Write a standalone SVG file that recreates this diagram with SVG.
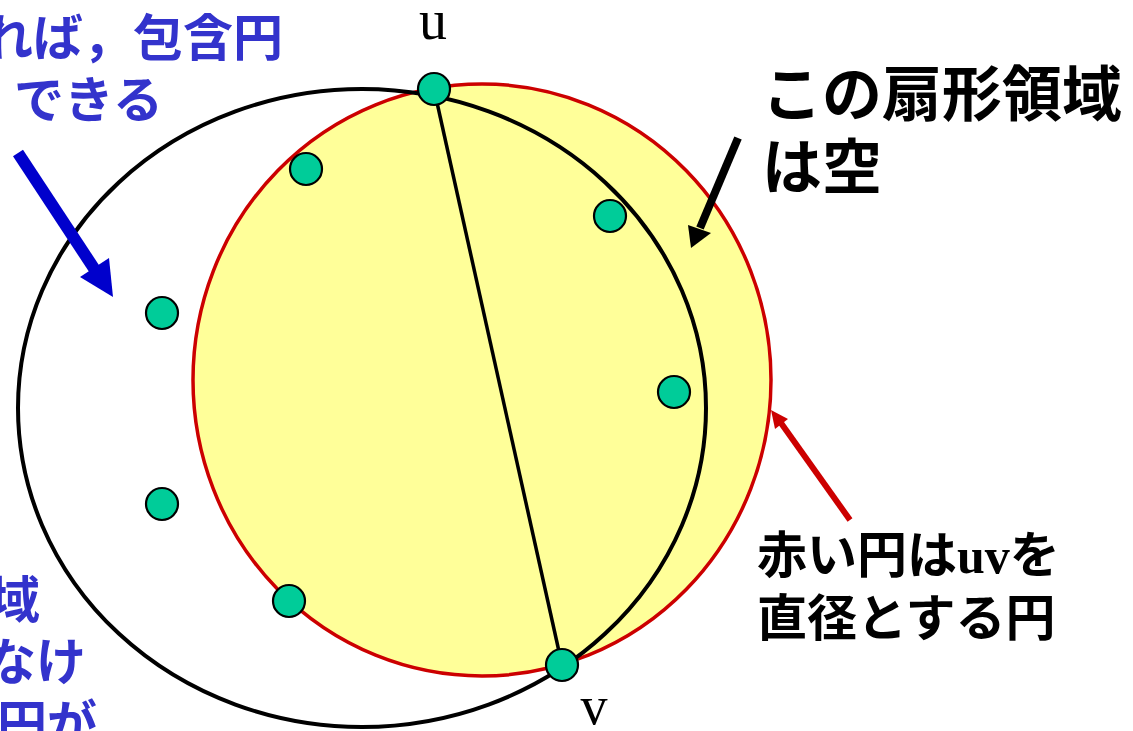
<svg xmlns="http://www.w3.org/2000/svg" width="1133" height="731" viewBox="0 0 1133 731">
<style>
.node{fill:#00CC99;stroke:#000;stroke-width:2.2}
.jp{font-family:"Noto Sans CJK JP","Noto Sans",sans-serif}
.blue{fill:#3333CC;font-size:50px;font-weight:bold}
.blk{fill:#000;font-weight:bold}
.lbl{font-family:"Liberation Serif",serif;fill:#000}
</style>
<rect width="1133" height="731" fill="#fff"/>
<g id="red-circle">
<ellipse cx="482" cy="380" rx="289" ry="296" fill="#FFFF99" stroke="#CC0000" stroke-width="3.5"/>
</g>
<g id="connectors">
<ellipse id="black-circle" cx="362" cy="408" rx="344" ry="319" fill="none" stroke="#000" stroke-width="4"/>
<line id="uv" x1="434" y1="89" x2="562" y2="665" stroke="#000" stroke-width="3.5"/>
<g id="blue-arrow">
<line x1="18" y1="153" x2="97" y2="273" stroke="#0000CC" stroke-width="12"/>
<polygon points="113,297 80,277 109,258" fill="#0000CC"/>
</g>
<g id="black-arrow">
<line x1="738" y1="138" x2="700" y2="228" stroke="#000" stroke-width="8"/>
<polygon points="691,248 688,225 711,233" fill="#000"/>
</g>
<g id="red-arrow">
<line x1="850" y1="520" x2="781" y2="423" stroke="#CC0000" stroke-width="6"/>
<polygon points="771,410 775,429 788,419" fill="#CC0000"/>
</g>
</g>
<g id="nodes">
<circle id="n-u" class="node" cx="434" cy="89" r="16"/>
<circle id="n2" class="node" cx="306" cy="169" r="16"/>
<circle id="n3" class="node" cx="610" cy="216" r="16"/>
<circle id="n4" class="node" cx="162" cy="313" r="16"/>
<circle id="n5" class="node" cx="674" cy="392" r="16"/>
<circle id="n6" class="node" cx="162" cy="504" r="16"/>
<circle id="n7" class="node" cx="289" cy="601" r="16"/>
<circle id="n-v" class="node" cx="562" cy="665" r="16"/>
</g>
<g id="labels">
<text class="lbl" x="433" y="39" font-size="56" text-anchor="middle">u</text>
<text class="lbl" x="594" y="724" font-size="54" text-anchor="middle">v</text>
</g>
<g id="text-topleft" class="jp blue">
<text x="-17" y="56">れば，包含円</text>
<text x="14" y="118">できる</text>
</g>
<g id="text-bottomleft" class="jp blue">
<text x="-10" y="618">域</text>
<text x="-14" y="680">なけ</text>
<text x="-3" y="742">円が</text>
</g>
<g id="text-sector" class="jp blk" font-size="60">
<text x="762" y="116">この扇形領域</text>
<text x="762" y="189">は空</text>
</g>
<g id="text-red" class="jp blk" font-size="50" font-weight="normal">
<text x="757" y="573">赤い円は<tspan font-family="Liberation Serif,serif" font-weight="bold" font-size="50">uv</tspan>を</text>
<text x="757" y="636">直径とする円</text>
</g>
</svg>
